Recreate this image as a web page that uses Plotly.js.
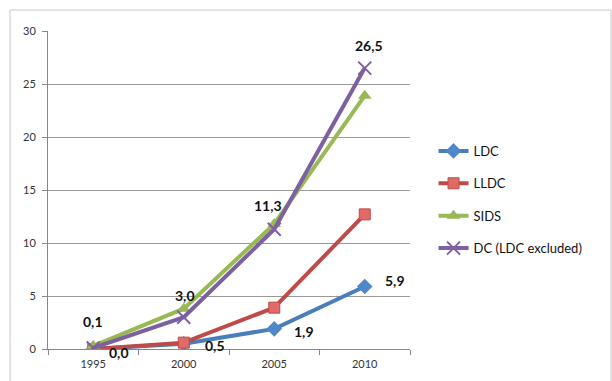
<!DOCTYPE html>
<html><head><meta charset="utf-8">
<script src="https://cdn.plot.ly/plotly-3.0.1.min.js"></script>
<style>html,body{margin:0;padding:0;background:#fff}#chart{width:612px;height:381px}</style>
</head><body><div id="chart"></div>
<script>
const years = ['1995', '2000', '2005', '2010'];
const ldc = [0.0, 0.5, 1.9, 5.9];
const lldc = [0.0, 0.6, 3.9, 12.7];
const sids = [0.3, 3.8, 11.8, 23.9];
const dc = [0.1, 3.0, 11.3, 26.5];
const ldcLabels = ['0,0', '0,5', '1,9', '5,9'];
const dcLabels = ['0,1', '3,0', '11,3', '26,5'];
const yTicks = [0, 5, 10, 15, 20, 25, 30];

// label offsets (pixels) relative to the data point
const ldcShiftX = [26, 31, 30, 30];
const ldcShiftY = [-3, -2, -3, 6];
const dcShiftX = [0, 1, -6, 4];
const dcShiftY = [26, 22, 24, 23];

const labelFont = {family: 'Lato, "Open Sans", sans-serif', size: 14, color: '#111', weight: 700};

const traces = [
  {name: 'LDC', x: years, y: ldc, mode: 'lines+markers',
   line: {color: '#4a7ebb', width: 4}, marker: {symbol: 'diamond', size: 12, color: '#4f87c8'}, legendgroup: 'a'},
  {name: 'LLDC', x: years, y: lldc, mode: 'lines+markers',
   line: {color: '#be4b48', width: 4}, marker: {symbol: 'square', size: 11, color: '#e06a66', line: {color: '#be4b48', width: 1}}, legendgroup: 'b'},
  {name: 'SIDS', x: years, y: sids, mode: 'lines+markers',
   line: {color: '#98b954', width: 4}, marker: {symbol: 'triangle-up', size: 12, color: '#98b954'}, legendgroup: 'c'},
  {name: 'DC (LDC excluded)', x: years, y: dc, mode: 'lines+markers',
   line: {color: '#7d60a0', width: 4}, marker: {symbol: 'x-thin', size: 13, color: '#7d60a0', line: {color: '#7d60a0', width: 2}}, legendgroup: 'd'}
];

const annotations = [];
years.forEach((yr, i) => {
  annotations.push({x: i, y: ldc[i], xref: 'x', yref: 'y', text: ldcLabels[i], showarrow: false,
    xshift: ldcShiftX[i], yshift: ldcShiftY[i], font: labelFont});
  annotations.push({x: i, y: dc[i], xref: 'x', yref: 'y', text: dcLabels[i], showarrow: false,
    xshift: dcShiftX[i], yshift: dcShiftY[i], font: labelFont});
});

const layout = {
  width: 612, height: 381,
  margin: {l: 48, r: 202, t: 31, b: 32},
  paper_bgcolor: '#fff', plot_bgcolor: '#fff',
  font: {family: 'Lato, "Open Sans", sans-serif', size: 11, color: '#333'},
  showlegend: true,
  legend: {x: 1.065, y: 0.67, xanchor: 'left', yanchor: 'top', tracegroupgap: 12.5,
           font: {size: 13, color: '#111'}, itemwidth: 30, bgcolor: 'rgba(0,0,0,0)'},
  annotations: annotations,
  xaxis: {type: 'category', range: [-0.5, 3.5], showgrid: false, zeroline: false,
          showline: true, linecolor: '#888', linewidth: 1, ticks: 'outside', tickson: 'boundaries',
          ticklen: 5, tickcolor: '#888', ticklabelstandoff: 5, tickfont: {size: 11, color: '#333'}, fixedrange: true},
  yaxis: {range: [0, 30], tickvals: yTicks, ticktext: yTicks.map(String), showgrid: true, gridcolor: '#9a9a9a', gridwidth: 1,
          zeroline: false, showline: true, linecolor: '#888', linewidth: 1, ticks: 'outside', ticklen: 5,
          ticklabelstandoff: 4, tickcolor: '#888', tickfont: {size: 11, color: '#333'}, fixedrange: true},
  shapes: [
    {type: 'rect', xref: 'paper', yref: 'paper', x0: (10 - 48) / 362, x1: (611 - 48) / 362,
     y0: (349 - 381) / 318 - 0.01, y1: (349 - 10) / 318, line: {color: '#c8c8c8', width: 1}, layer: 'below'}
  ]
};

Plotly.newPlot('chart', traces, layout, {displayModeBar: false, staticPlot: true});
</script></body></html>
